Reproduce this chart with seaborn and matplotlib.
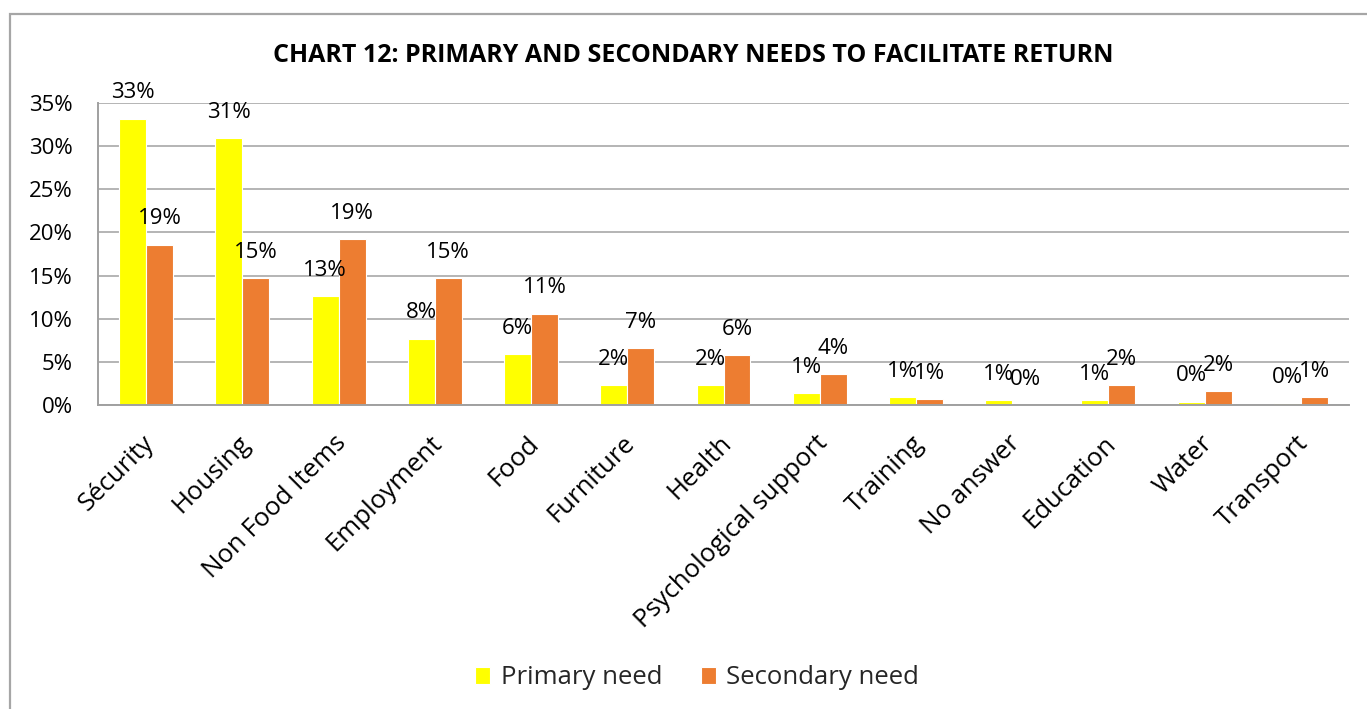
import matplotlib
matplotlib.use("Agg")
import matplotlib.pyplot as plt
import matplotlib.transforms as mtransforms
import seaborn as sns
import pandas as pd
from matplotlib.patches import Rectangle
from matplotlib.ticker import FuncFormatter, MultipleLocator

categories = ["Sécurity", "Housing", "Non Food Items", "Employment", "Food",
              "Furniture", "Health", "Psychological support", "Training",
              "No answer", "Education", "Water", "Transport"]
primary_need = [33.2, 30.9, 12.6, 7.7, 5.9, 2.3, 2.3, 1.4, 0.9, 0.6, 0.6, 0.4, 0.2]
secondary_need = [18.6, 14.7, 19.2, 14.7, 10.6, 6.6, 5.8, 3.6, 0.7, 0.0, 2.3, 1.6, 0.9]
series_names = ["Primary need", "Secondary need"]
series_colors = ["#FFFF00", "#ED7D31"]
title = "CHART 12: PRIMARY AND SECONDARY NEEDS TO FACILITATE RETURN"

sns.set_theme(style="white")
plt.rcParams["font.family"] = ["Open Sans", "DejaVu Sans"]

df = pd.DataFrame({
    "category": categories * 2,
    "value": primary_need + secondary_need,
    "series": [series_names[0]] * len(categories) + [series_names[1]] * len(categories),
})

fig = plt.figure(figsize=(13.67, 7.09), dpi=100)
ax = fig.add_axes([98 / 1367, 1 - 405 / 709, (1349 - 98) / 1367, (405 - 103) / 709])

sns.barplot(data=df, x="category", y="value", hue="series", order=categories,
            hue_order=series_names, palette=series_colors, saturation=1,
            width=0.56, edgecolor="white", linewidth=0.8, ax=ax)

grey = "#A0A0A0"
ax.set_xlim(-0.5, len(categories) - 0.5)
ax.set_ylim(0, 35)
ax.yaxis.set_major_locator(MultipleLocator(5))
ax.yaxis.set_major_formatter(FuncFormatter(lambda v, _: f"{v:.0f}%"))
ax.set_axisbelow(True)
ax.grid(axis="y", color=grey, linewidth=1.1)
ax.grid(axis="x", visible=False)
for side in ("top", "right"):
    ax.spines[side].set_visible(False)
for side in ("left", "bottom"):
    ax.spines[side].set_color(grey)
    ax.spines[side].set_linewidth(1.4)
ax.set_xlabel("")
ax.set_ylabel("")
ax.tick_params(axis="y", length=0, pad=18, labelsize=16, labelcolor="black")
ax.tick_params(axis="x", length=0, pad=25, labelsize=18.5, labelcolor="black")
ax.set_xticks(range(len(categories)))
ax.set_xticklabels(categories, rotation=45, ha="right", va="center",
                   rotation_mode="anchor")
nudge = mtransforms.ScaledTranslation(4 / 100, 0, fig.dpi_scale_trans)
for lbl in ax.get_xticklabels():
    lbl.set_transform(lbl.get_transform() + nudge)

for container, values in zip(ax.containers, [primary_need, secondary_need]):
    ax.bar_label(container, labels=[f"{v:.0f}%" for v in values],
                 padding=11, fontsize=16, color="black")

handles, labels = ax.get_legend_handles_labels()
ax.legend_.remove()
fig.legend(handles, labels, loc="center", bbox_to_anchor=(697 / 1367, 1 - 678 / 709),
           ncol=2, frameon=False, fontsize=18.5, handlelength=0.6,
           handleheight=0.6, handletextpad=0.4, columnspacing=1.5)

fig.text(693 / 1367, 1 - 55 / 709, title, ha="center", va="center",
         fontsize=18, fontweight="bold", color="black")

fig.patches.append(Rectangle((10 / 1367, -0.1), 1.2, 1 - 14 / 709 + 0.1,
                             transform=fig.transFigure, fill=False,
                             edgecolor="#A6A6A6", linewidth=1.6))

fig.savefig("out.png", dpi=100, facecolor="white")
